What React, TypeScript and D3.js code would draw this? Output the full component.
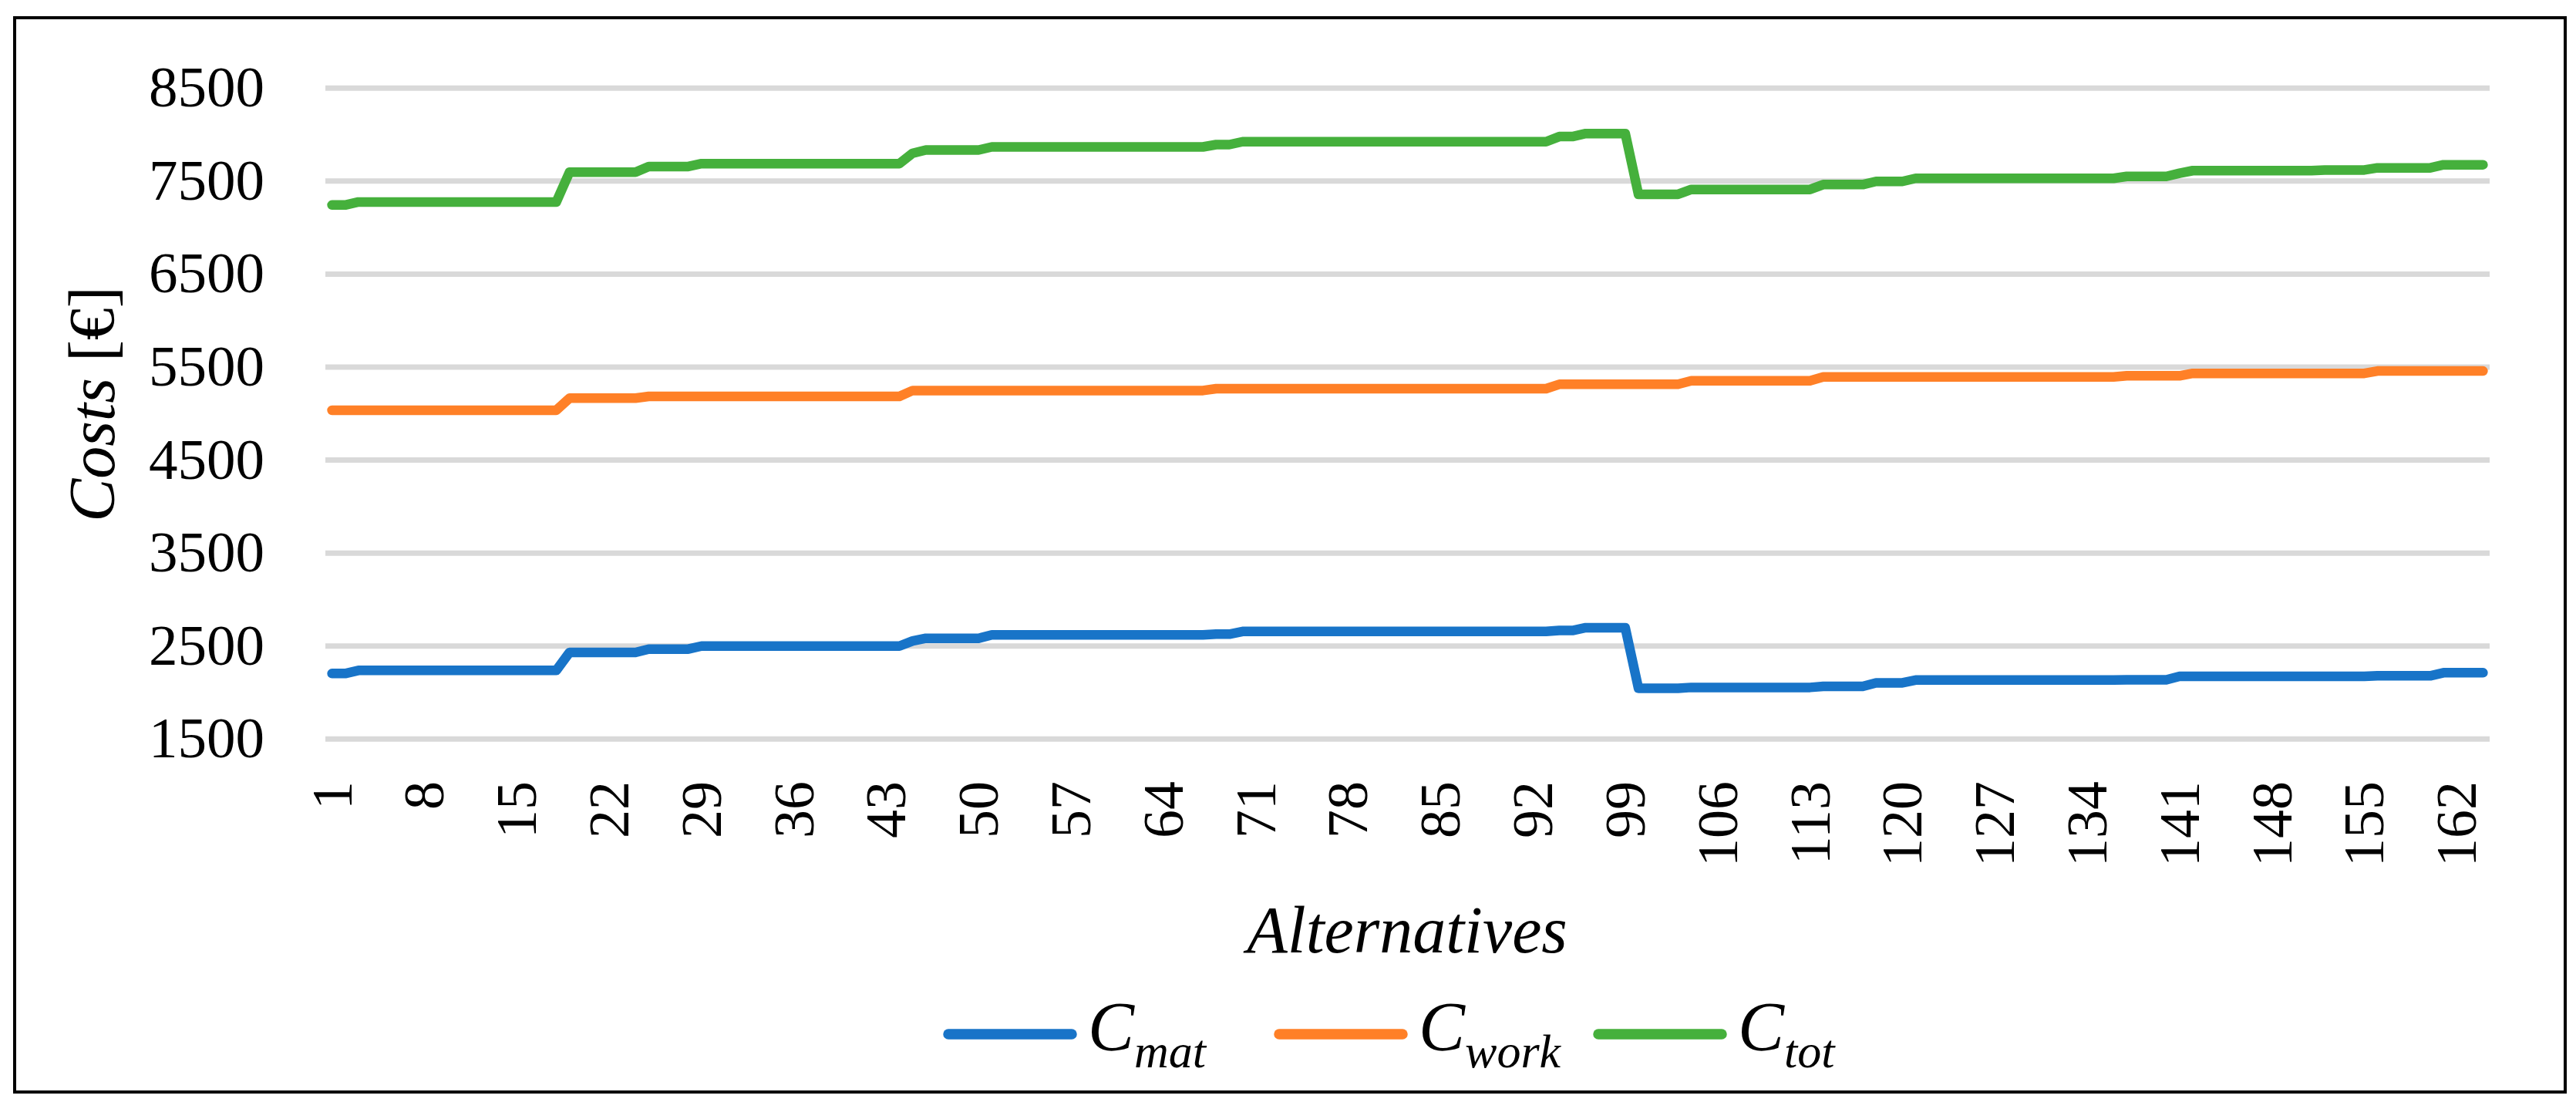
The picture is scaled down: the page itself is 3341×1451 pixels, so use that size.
import React from "react";
import * as d3 from "d3";

// ---------- data ----------
const alternatives: number[] = Array.from({ length: 164 }, (_, i) => i + 1);

const cMat: number[] = [
  2205, 2205,
  2238, 2238, 2238, 2238, 2238, 2238, 2238, 2238,
  2238, 2238, 2238, 2238, 2238, 2238, 2238, 2238,
  2431, 2431, 2431, 2431, 2431, 2431,
  2467, 2467, 2467, 2467,
  2500, 2500, 2500, 2500, 2500, 2500, 2500, 2500,
  2500, 2500, 2500, 2500, 2500, 2500, 2500, 2500,
  2555,
  2583, 2583, 2583, 2583, 2583,
  2620, 2620, 2620, 2620, 2620, 2620, 2620, 2620, 2620,
  2620, 2620, 2620, 2620, 2620, 2620, 2620, 2620,
  2628, 2628,
  2657, 2657, 2657, 2657, 2657, 2657, 2657, 2657,
  2657, 2657, 2657, 2657, 2657, 2657, 2657, 2657,
  2657, 2657, 2657, 2657, 2657, 2657, 2657, 2657,
  2667, 2667,
  2697, 2697, 2697, 2697,
  2046, 2046, 2046, 2046,
  2055, 2055, 2055, 2055, 2055,
  2055, 2055, 2055, 2055, 2055,
  2066, 2066, 2066, 2066,
  2104, 2104, 2104,
  2134, 2134, 2134, 2134, 2134, 2134, 2134, 2134,
  2134, 2134, 2134, 2134, 2134, 2134, 2134, 2134,
  2137, 2137, 2137, 2137,
  2174, 2174, 2174, 2174, 2174, 2174, 2174, 2174,
  2174, 2174, 2174, 2174, 2174, 2174, 2174,
  2180, 2180, 2180, 2180, 2180,
  2213, 2213, 2213, 2213,
];

const cWork: number[] = [
  5036, 5036, 5036, 5036, 5036, 5036, 5036, 5036, 5036,
  5036, 5036, 5036, 5036, 5036, 5036, 5036, 5036, 5036,
  5166, 5166, 5166, 5166, 5166, 5166,
  5185, 5185, 5185, 5185, 5185, 5185, 5185, 5185, 5185, 5185,
  5185, 5185, 5185, 5185, 5185, 5185, 5185, 5185, 5185, 5185,
  5248, 5248, 5248, 5248, 5248, 5248, 5248, 5248, 5248, 5248,
  5248, 5248, 5248, 5248, 5248, 5248, 5248, 5248, 5248, 5248,
  5248, 5248, 5248,
  5268, 5268, 5268, 5268, 5268, 5268, 5268, 5268, 5268, 5268,
  5268, 5268, 5268, 5268, 5268, 5268, 5268, 5268, 5268, 5268,
  5268, 5268, 5268, 5268, 5268, 5268,
  5315, 5315, 5315, 5315, 5315, 5315, 5315, 5315, 5315, 5315,
  5353, 5353, 5353, 5353, 5353, 5353, 5353, 5353, 5353, 5353,
  5394, 5394, 5394, 5394, 5394, 5394, 5394, 5394, 5394, 5394,
  5394, 5394, 5394, 5394, 5394, 5394, 5394, 5394, 5394, 5394,
  5394, 5394, 5394,
  5406, 5406, 5406, 5406, 5406,
  5432, 5432, 5432, 5432, 5432, 5432, 5432,
  5432, 5432, 5432, 5432, 5432, 5432, 5432,
  5458, 5458, 5458, 5458, 5458, 5458, 5458, 5458, 5458,
];

const cTot: number[] = [
  7243, 7243,
  7276, 7276, 7276, 7276, 7276, 7276, 7276, 7276,
  7276, 7276, 7276, 7276, 7276, 7276, 7276, 7276,
  7597, 7597, 7597, 7597, 7597, 7597,
  7657, 7657, 7657, 7657,
  7688, 7688, 7688, 7688, 7688, 7688, 7688, 7688,
  7688, 7688, 7688, 7688, 7688, 7688, 7688, 7688,
  7800,
  7835, 7835, 7835, 7835, 7835,
  7868, 7868, 7868, 7868, 7868, 7868, 7868, 7868, 7868,
  7868, 7868, 7868, 7868, 7868, 7868, 7868, 7868,
  7893, 7893,
  7924, 7924, 7924, 7924, 7924, 7924, 7924, 7924,
  7924, 7924, 7924, 7924, 7924, 7924, 7924, 7924,
  7924, 7924, 7924, 7924, 7924, 7924, 7924, 7924,
  7979, 7979,
  8012, 8012, 8012, 8012,
  7358, 7358, 7358, 7358,
  7410, 7410, 7410, 7410, 7410,
  7410, 7410, 7410, 7410, 7410,
  7463, 7463, 7463, 7463,
  7497, 7497, 7497,
  7530, 7530, 7530, 7530, 7530, 7530, 7530, 7530,
  7530, 7530, 7530, 7530, 7530, 7530, 7530, 7530,
  7551, 7551, 7551, 7551,
  7585,
  7613, 7613, 7613, 7613, 7613, 7613, 7613, 7613, 7613, 7613,
  7620, 7620, 7620, 7620,
  7643, 7643, 7643, 7643, 7643,
  7676, 7676, 7676, 7676,
];

const yTicks: number[] = [1500, 2500, 3500, 4500, 5500, 6500, 7500, 8500];
const xTickLabels: number[] = alternatives.filter((a) => (a - 1) % 7 === 0);

const seriesNames: [string, string][] = [
  ["C", "mat"],
  ["C", "work"],
  ["C", "tot"],
];
const seriesColors: string[] = ["#1874C8", "#FF8027", "#45B03C"];
const seriesData: number[][] = [cMat, cWork, cTot];

const yTitleItalic = "Costs";
const yTitleRest = " [€]";
const xTitle = "Alternatives";

// ---------- layout ----------
const W = 3341;
const H = 1451;
const plotLeft = 422;
const plotRight = 3229;
const plotTop = 114.3;
const plotBottom = 958.3;
const FONT = "'Liberation Serif', 'DejaVu Serif', serif";

export default function App() {
  const x = d3
    .scaleBand<number>()
    .domain(alternatives)
    .range([plotLeft, plotRight])
    .paddingInner(0)
    .paddingOuter(0);
  const cx = (a: number) => (x(a) as number) + x.bandwidth() / 2;
  const y = d3.scaleLinear().domain([1500, 8500]).range([plotBottom, plotTop]);

  const line = d3
    .line<number>()
    .x((_, i) => cx(alternatives[i]))
    .y((v) => y(v));

  const legendSwatchX = [1230, 1659, 2073];
  const legendY = 1341;

  return (
    <svg
      width={W}
      height={H}
      style={{ position: "absolute", left: 0, top: 0, display: "block", background: "#fff" }}
      fontFamily={FONT}
    >
      <rect x={0} y={0} width={W} height={H} fill="#fff" />
      <rect x={19} y={23} width={3308} height={1393} fill="#fff" stroke="#000" strokeWidth={4} />

      {/* gridlines */}
      {yTicks.map((t) => (
        <line key={t} x1={plotLeft} x2={plotRight} y1={y(t)} y2={y(t)} stroke="#D9D9D9" strokeWidth={7} />
      ))}

      {/* y tick labels */}
      {yTicks.map((t) => (
        <text key={"yl" + t} x={343} y={y(t) + 24} textAnchor="end" fontSize={75} fill="#000">
          {t}
        </text>
      ))}

      {/* x tick labels */}
      {xTickLabels.map((a) => (
        <text
          key={"xl" + a}
          transform={`translate(${cx(a) + 25},1013) rotate(-90)`}
          textAnchor="end"
          fontSize={74}
          fill="#000"
        >
          {a}
        </text>
      ))}

      {/* series lines */}
      {seriesData.map((s, k) => (
        <path
          key={"s" + k}
          d={line(s) || ""}
          fill="none"
          stroke={seriesColors[k]}
          strokeWidth={12.5}
          strokeLinejoin="round"
          strokeLinecap="round"
        />
      ))}

      {/* y title */}
      <text transform={`translate(148,524) rotate(-90)`} textAnchor="middle" fontSize={84} fill="#000">
        <tspan fontStyle="italic">{yTitleItalic}</tspan>
        <tspan>{yTitleRest}</tspan>
      </text>

      {/* x title */}
      <text x={1825} y={1235} textAnchor="middle" fontSize={86} fontStyle="italic" fill="#000">
        {xTitle}
      </text>

      {/* legend */}
      {seriesNames.map((nm, k) => (
        <g key={"lg" + k}>
          <line
            x1={legendSwatchX[k]}
            x2={legendSwatchX[k] + 160}
            y1={legendY}
            y2={legendY}
            stroke={seriesColors[k]}
            strokeWidth={13.5}
            strokeLinecap="round"
          />
          <text x={legendSwatchX[k] + 181} y={1362} fontStyle="italic" fill="#000">
            <tspan fontSize={90}>{nm[0]}</tspan>
            <tspan fontSize={62} dy={22}>
              {nm[1]}
            </tspan>
          </text>
        </g>
      ))}
    </svg>
  );
}
